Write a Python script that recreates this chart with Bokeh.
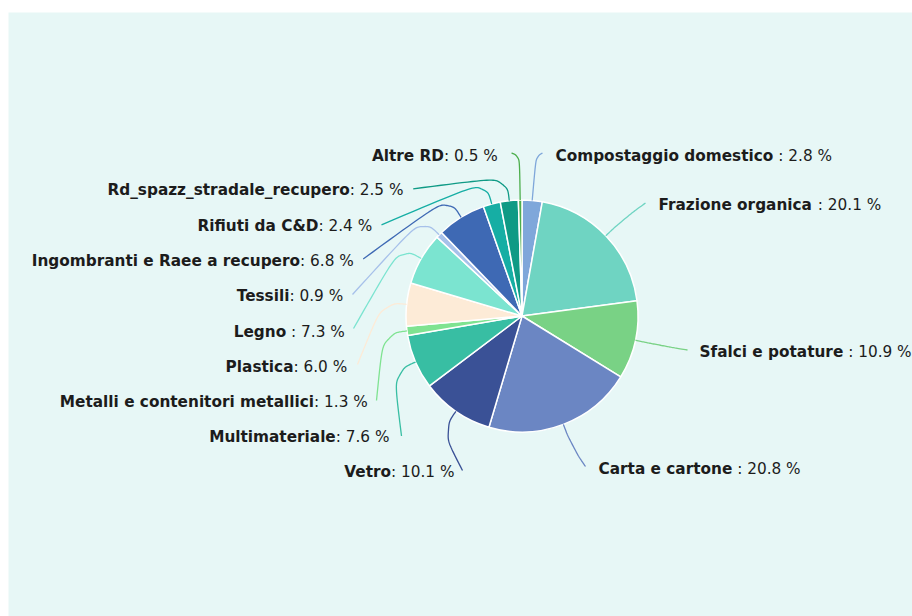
import glob
import struct
import numpy as np
from bokeh.plotting import figure
from bokeh.models import Range1d, Spacer
from bokeh.layouts import column, row
from bokeh.core.properties import value
from bokeh.embed import file_html
from bokeh.resources import INLINE

# ---------------- data ----------------
CATEGORIES = [
    "Compostaggio domestico", "Frazione organica", "Sfalci e potature",
    "Carta e cartone", "Vetro", "Multimateriale",
    "Metalli e contenitori metallici", "Plastica", "Legno", "Tessili",
    "Ingombranti e Raee a recupero", "Rifiuti da C&D",
    "Rd_spazz_stradale_recupero", "Altre RD",
]
VALUES = [2.8, 20.1, 10.9, 20.8, 10.1, 7.6, 1.3, 6.0, 7.3, 0.9, 6.8, 2.4, 2.5, 0.5]
LABEL_SEP = [" : ", " : ", " : ", " : ", ": ", ": ", ": ", ": ", " : ", ": ",
             ": ", ": ", ": ", ": "]

# ---------------- style ----------------
COLORS = ["#7fa7da", "#6fd4c2", "#79d285", "#6b86c3", "#3a5196", "#38bea3",
          "#7fe391", "#fdebd7", "#7be4d0", "#a7c1ea", "#3e69b4", "#16aea4",
          "#0f9a85", "#4cae4c"]
BG = "#e7f7f6"
TEXT_COLOR = "#1c1c1c"
FONT = "DejaVu Sans"
FONT_PX = 15.3

# ---------------- layout (screen pixels of the 912x616 page) ----------------
W, H = 904, 604
X0, Y_TOP = 8, 12
Y_BOTTOM = Y_TOP + H
CX, CY, R = 521.5, 315.5, 116
SIDE = ["R", "R", "R", "R", "L", "L", "L", "L", "L", "L", "L", "L", "L", "L"]
LABEL_X = [555, 658, 699, 598, 454, 389, 367.3, 346.7, 344.3, 342.7, 353.3,
           371.7, 403, 497.3]
LABEL_BASE = [160, 209, 356.5, 473.5, 476.5, 441.5, 406.5, 371, 336, 300.5,
              265.5, 230, 194, 160]
TEXT_DY = -5
LINE_END_X = [542, 645, 687, 585, 462, 401, 376, 357, 353, 352, 362.7, 381,
              412.7, 511]
LINE_END_Y = [152.5, 202.5, 349.5, 466, 470, 435.5, 400, 364, 328, 294, 258.5,
              224.3, 188.3, 152.5]
ELBOW_R = [160, 140, 140, 140, 140, 140, 140, 140, 140, 140, 140, 140, 140, 160]
SMOOTH = 0.5


def fy(sy):
    return Y_BOTTOM - np.asarray(sy, dtype=float)


# ---------------- font metrics for mixed bold/normal labels ----------------
def make_measurer(fname, fallback_em):
    files = []
    for root in ("/usr/share/fonts", "/usr/local/share/fonts"):
        files += glob.glob(root + "/**/" + fname, recursive=True)
    if not files:
        return lambda s, size: len(s) * fallback_em * size
    try:
        data = open(files[0], "rb").read()
        ntab = struct.unpack(">H", data[4:6])[0]
        tabs = {}
        for i in range(ntab):
            o = 12 + 16 * i
            tag = data[o:o + 4].decode("latin1")
            _, toff, tlen = struct.unpack(">III", data[o + 4:o + 16])
            tabs[tag] = toff
        upem = struct.unpack(">H", data[tabs["head"] + 18:tabs["head"] + 20])[0]
        nhm = struct.unpack(">H", data[tabs["hhea"] + 34:tabs["hhea"] + 36])[0]
        hm = tabs["hmtx"]
        adv = [struct.unpack(">H", data[hm + 4 * i:hm + 4 * i + 2])[0] for i in range(nhm)]
        cm = tabs["cmap"]
        n = struct.unpack(">H", data[cm + 2:cm + 4])[0]
        sub = None
        for i in range(n):
            pid, eid, soff = struct.unpack(">HHI", data[cm + 4 + 8 * i:cm + 12 + 8 * i])
            fmt = struct.unpack(">H", data[cm + soff:cm + soff + 2])[0]
            if pid == 3 and eid == 1 and fmt == 4:
                sub = cm + soff
        segx2 = struct.unpack(">H", data[sub + 6:sub + 8])[0]
        seg = segx2 // 2
        ends = struct.unpack(">%dH" % seg, data[sub + 14:sub + 14 + segx2])
        so = sub + 16 + segx2
        starts = struct.unpack(">%dH" % seg, data[so:so + segx2])
        do = so + segx2
        deltas = struct.unpack(">%dh" % seg, data[do:do + segx2])
        ro = do + segx2
        ros = struct.unpack(">%dH" % seg, data[ro:ro + segx2])

        def gid(ch):
            c = ord(ch)
            for i in range(seg):
                if ends[i] >= c:
                    if starts[i] > c:
                        return 0
                    if ros[i] == 0:
                        return (c + deltas[i]) & 0xFFFF
                    a = ro + 2 * i + ros[i] + 2 * (c - starts[i])
                    g = struct.unpack(">H", data[a:a + 2])[0]
                    return ((g + deltas[i]) & 0xFFFF) if g else 0
            return 0

        def measure(s, size):
            return sum(adv[min(gid(ch), nhm - 1)] for ch in s) * size / upem
        return measure
    except Exception:
        return lambda s, size: len(s) * fallback_em * size


w_bold = make_measurer("DejaVuSans-Bold.ttf", 0.66)
w_norm = make_measurer("DejaVuSans.ttf", 0.58)

# ---------------- figure ----------------
p = figure(width=W, height=H, x_range=Range1d(X0, X0 + W), y_range=Range1d(0, H),
           output_backend="svg", toolbar_location=None, min_border=0,
           x_axis_type=None, y_axis_type=None,
           background_fill_color=BG, border_fill_color=BG, outline_line_color=None)
p.grid.visible = False

vals = np.array(VALUES, dtype=float)
frac = vals / vals.sum()
cum_end = np.cumsum(frac)
cum_start = cum_end - frac
start_ang = np.pi / 2 - 2 * np.pi * cum_start
end_ang = np.pi / 2 - 2 * np.pi * cum_end

p.wedge(x=CX, y=float(fy(CY)), radius=R, start_angle=start_ang, end_angle=end_ang,
        direction="clock", fill_color=COLORS, line_color="white", line_width=1.5)


# connectors (smoothed guide lines)
def cubic(a, c1, c2, b, n=24):
    t = np.linspace(0, 1, n)[:, None]
    return ((1 - t) ** 3) * a + 3 * ((1 - t) ** 2) * t * c1 + 3 * (1 - t) * t ** 2 * c2 + t ** 3 * b


xs, ys = [], []
mid = 2 * np.pi * (cum_start + frac / 2)  # clockwise from top
for i in range(len(VALUES)):
    dx, dy = np.sin(mid[i]), -np.cos(mid[i])  # screen direction
    p0 = np.array([CX + R * dx, CY + R * dy])
    p1 = np.array([CX + ELBOW_R[i] * dx, CY + ELBOW_R[i] * dy])
    p2 = np.array([LINE_END_X[i], LINE_END_Y[i]])
    l1 = np.linalg.norm(p1 - p0)
    l2 = np.linalg.norm(p2 - p1)
    mv = min(l1, l2) * SMOOTH
    m0 = p1 + (p0 - p1) * mv / l1
    m2 = p1 + (p2 - p1) * mv / l2
    m1 = (m0 + m2) / 2
    pts = np.vstack([cubic(p0, m0, m0, m1), cubic(m1, m2, m2, p2)[1:]])
    xs.append(list(pts[:, 0]))
    ys.append(list(fy(pts[:, 1])))

p.multi_line(xs=xs, ys=ys, line_color=COLORS, line_width=1.3)

# labels: bold category + normal ": value %"
size = FONT_PX
bx, bt, ba, nx, nt, na, ly = [], [], [], [], [], [], []
for i, name in enumerate(CATEGORIES):
    rest = "%s%.1f %%" % (LABEL_SEP[i], VALUES[i])
    lead = rest[:len(rest) - len(rest.lstrip())]
    shown = rest.lstrip()
    if SIDE[i] == "R":
        bx.append(LABEL_X[i]); ba.append("left")
        nx.append(LABEL_X[i] + w_bold(name, size) + w_norm(lead, size)); na.append("left")
    else:
        nx.append(LABEL_X[i]); na.append("right")
        bx.append(LABEL_X[i] - w_norm(rest, size)); ba.append("right")
    bt.append(name)
    nt.append(shown)
    ly.append(float(fy(LABEL_BASE[i] + TEXT_DY)))

p.text(x=bx, y=ly, text=bt, text_align=ba, text_baseline="alphabetic",
       text_font=value(FONT), text_font_style="bold", text_font_size="%.1fpx" % size,
       text_color=TEXT_COLOR)
p.text(x=nx, y=ly, text=nt, text_align=na, text_baseline="alphabetic",
       text_font=value(FONT), text_font_style="normal", text_font_size="%.1fpx" % size,
       text_color=TEXT_COLOR)

layout = row(Spacer(width=X0, height=Y_BOTTOM),
             column(Spacer(width=W, height=Y_TOP), p))
open("out.html", "w").write(file_html(layout, INLINE))
